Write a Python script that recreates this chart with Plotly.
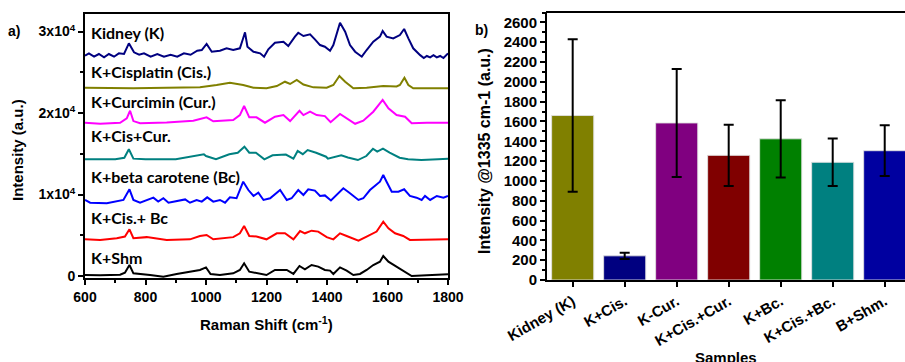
import plotly.graph_objects as go

# ---------------- Panel a: Raman spectra (offset, plotted intensity) ----------------
kidney_x = [600, 613, 630, 646, 663, 679, 696, 712, 729, 745, 762, 779, 795, 817, 839, 861, 883, 905, 927,
            949, 971, 986, 1002, 1019, 1046, 1068, 1090, 1112, 1121, 1129, 1137, 1157, 1179, 1192, 1206, 1228,
            1256, 1272, 1294, 1305, 1322, 1344, 1360, 1377, 1393, 1410, 1421, 1432, 1443, 1460, 1476, 1493,
            1515, 1531, 1553, 1575, 1584, 1597, 1619, 1641, 1655, 1669, 1685, 1708, 1720, 1730, 1741, 1752,
            1763, 1774, 1785, 1800]
kidney_y = [27030, 27320, 26910, 27240, 26830, 27240, 26910, 27320, 27240, 28550, 27450, 27150, 27320, 26910,
            27240, 26910, 27150, 26910, 27320, 27150, 27640, 27730, 28470, 27520, 27650, 27940, 27730, 27940,
            28960, 29900, 28140, 27520, 27320, 26910, 27820, 28630, 28750, 28220, 29370, 29850, 29450, 29650,
            29040, 28340, 28140, 27650, 28340, 29780, 31080, 29980, 28340, 27520, 26910, 27730, 28750, 29370,
            30060, 29370, 29160, 29570, 30310, 29160, 27940, 27100, 26750, 27000, 26830, 27100, 26830, 27000,
            26750, 27320]

cis_x = [600, 760, 870, 980, 1035, 1079, 1123, 1157, 1200, 1234, 1261, 1278, 1300, 1322, 1355, 1399, 1421,
         1441, 1460, 1487, 1531, 1586, 1630, 1641, 1656, 1669, 1685, 1800]
cis_y = [23110, 23030, 23110, 23150, 23440, 23720, 23440, 23110, 23030, 23310, 23840, 23560, 24050, 23500,
         23150, 23110, 23440, 24540, 23840, 23030, 23110, 23310, 23250, 23440, 24330, 23440, 23030, 23030]

cur_x = [600, 650, 716, 738, 749, 760, 782, 870, 958, 1002, 1024, 1090, 1112, 1126, 1143, 1167, 1195, 1228,
         1256, 1278, 1309, 1322, 1344, 1366, 1393, 1412, 1443, 1465, 1493, 1520, 1553, 1584, 1603, 1630,
         1658, 1680, 1730, 1800]
cur_y = [18810, 18680, 18810, 19350, 20280, 19010, 18740, 18850, 19060, 19470, 18990, 19150, 19750, 20860,
         19470, 19470, 18810, 19550, 19750, 19010, 20280, 19750, 20160, 19750, 19620, 18880, 19880, 19350,
         18680, 19060, 20160, 21600, 20580, 19750, 19550, 18740, 18810, 18810]

ciscur_x = [600, 700, 730, 745, 760, 800, 900, 993, 1000, 1033, 1077, 1105, 1127, 1143, 1165, 1193, 1220,
            1264, 1289, 1303, 1320, 1336, 1364, 1397, 1403, 1447, 1469, 1502, 1530, 1552, 1566, 1585, 1607,
            1640, 1668, 1712, 1767, 1800]
ciscur_y = [14320, 14320, 14500, 15550, 14400, 14320, 14320, 14930, 14720, 14320, 14930, 15130, 15870,
            15130, 15130, 14320, 14810, 14900, 14400, 15340, 14950, 15460, 15130, 14640, 14400, 14810, 14550,
            14230, 14720, 15620, 15260, 15620, 15130, 14520, 14320, 14230, 14320, 14400]

bc_x = [600, 617, 672, 727, 747, 760, 782, 826, 842, 859, 876, 931, 947, 969, 986, 1004, 1024, 1046, 1063,
        1079, 1101, 1123, 1140, 1157, 1173, 1190, 1212, 1245, 1267, 1283, 1305, 1322, 1338, 1360, 1377, 1393,
        1413, 1432, 1454, 1476, 1504, 1520, 1542, 1575, 1586, 1597, 1614, 1636, 1655, 1674, 1696, 1713, 1724,
        1741, 1763, 1785, 1800]
bc_y = [9330, 8990, 8920, 9330, 10640, 9330, 8990, 9610, 9130, 9540, 8990, 9400, 8990, 9330, 9130, 9650,
        9130, 9330, 8990, 9650, 9540, 11570, 10550, 9820, 10220, 9330, 9540, 10550, 9330, 9540, 10550, 9940,
        10640, 10480, 9820, 9890, 9270, 9940, 10760, 10150, 9330, 9540, 10550, 11570, 12390, 11570, 10350,
        10350, 10640, 9820, 9610, 9330, 9820, 9330, 9820, 9610, 9820]

cisbc_x = [600, 650, 705, 732, 747, 760, 804, 870, 947, 980, 1002, 1024, 1090, 1112, 1126, 1143, 1167,
           1200, 1234, 1261, 1289, 1311, 1327, 1349, 1371, 1399, 1421, 1443, 1465, 1504, 1531, 1564, 1586,
           1603, 1625, 1652, 1674, 1752, 1800]
cisbc_y = [4500, 4420, 4640, 4840, 5730, 4640, 4770, 4420, 4500, 4910, 5040, 4500, 4770, 5240, 6140, 4910,
           4840, 4500, 5240, 5240, 4500, 5520, 5240, 5560, 5450, 4770, 4500, 5240, 4910, 4330, 4840, 5450,
           6660, 5860, 5240, 4910, 4420, 4420, 4500]

shm_x = [600, 650, 716, 732, 747, 760, 815, 859, 903, 947, 980, 1000, 1015, 1046, 1090, 1112, 1126, 1143,
         1167, 1200, 1228, 1267, 1289, 1309, 1327, 1349, 1371, 1393, 1410, 1421, 1443, 1465, 1487, 1509,
         1531, 1553, 1575, 1586, 1603, 1630, 1658, 1680, 1730, 1800]
shm_y = [120, 80, 160, 410, 1350, 330, 120, -80, 250, 530, 740, 1060, 250, 120, 330, 740, 1560, 530, 330,
         120, 740, 740, 250, 1230, 820, 1350, 1150, 740, 660, 250, 1060, 660, 120, 250, 740, 1350, 1760, 2450,
         1760, 1150, 530, 0, 80, 200]

spec_names = ["Kidney (K)", "K+Cisplatin (Cis.)", "K+Curcimin (Cur.)", "K+Cis+Cur.",
              "K+beta carotene (Bc)", "K+Cis.+ Bc", "K+Shm"]
spec_x = [kidney_x, cis_x, cur_x, ciscur_x, bc_x, cisbc_x, shm_x]
spec_y = [kidney_y, cis_y, cur_y, ciscur_y, bc_y, cisbc_y, shm_y]
spec_colors = ["#000080", "#808000", "#FF00FF", "#008080", "#0000FF", "#FF0000", "#000000"]
label_y = [29940, 25150, 21470, 17300, 12270, 7120, 2330]

y_tick_vals = [0, 10000, 20000, 30000]
y_tick_text = ["0", "1x10<sup>4</sup>", "2x10<sup>4</sup>", "3x10<sup>4</sup>"]

# ---------------- Panel b: bar chart ----------------
samples = ["Kidney (K)", "K+Cis.", "K-Cur.", "K+Cis.+Cur.", "K+Bc.", "K+Cis.+Bc.", "B+Shm."]
intensity = [1660, 244, 1585, 1258, 1425, 1188, 1305]
err = [770, 32, 545, 310, 390, 240, 256]
bar_colors = ["#808000", "#000080", "#800080", "#800000", "#008000", "#008080", "#0000A0"]

W, H = 905, 362

fig = go.Figure()

for name, xs, ys, c in zip(spec_names, spec_x, spec_y, spec_colors):
    fig.add_trace(go.Scatter(x=xs, y=ys, mode="lines", line=dict(color=c, width=2),
                             name=name, xaxis="x", yaxis="y", showlegend=False))

fig.add_trace(go.Bar(x=list(range(len(samples))), y=intensity,
                     marker=dict(color=bar_colors, line=dict(color="rgba(225,225,225,0.9)", width=1)),
                     width=0.81,
                     error_y=dict(type="data", array=err, color="black", thickness=2, width=5),
                     xaxis="x2", yaxis="y2", showlegend=False))

FAM = "Liberation Sans, Arial"
tick_font_a = dict(family=FAM, size=14, color="black", weight="bold")
tick_font_b = dict(family=FAM, size=15, color="black", weight="bold")
label_font = dict(family="Lato", size=16, color="black", weight="bold")


def px_ann(x, y, text, size, angle=0):
    return dict(x=x / W, y=1 - y / H, xref="paper", yref="paper", text=text, showarrow=False,
                textangle=angle, xanchor="center", yanchor="middle",
                font=dict(family=FAM, size=size, color="black", weight="bold"))


annotations = []
for name, ly in zip(spec_names, label_y):
    annotations.append(dict(x=614, y=ly, xref="x", yref="y", text=name, showarrow=False,
                            xanchor="left", yanchor="middle", font=label_font))

annotations += [
    px_ann(14, 31, "a)", 14),
    px_ann(18, 150, "Intensity (a.u.)", 15, -90),
    px_ann(266, 323, "Raman Shift (cm<sup>-1</sup>)", 15),
    px_ann(481, 30, "b)", 14),
    px_ann(484, 151, "Intensity @1335 cm-1 (a.u.)", 16, -90),
    px_ann(726, 357, "Samples", 15),
]

common = dict(showgrid=False, zeroline=False, automargin=False, ticks="outside", ticklen=5,
              tickwidth=2, tickcolor="black", showline=True, linecolor="black", linewidth=2)

fig.update_layout(
    width=W, height=H,
    margin=dict(l=0, r=0, t=0, b=0, autoexpand=False),
    paper_bgcolor="white", plot_bgcolor="white",
    font=dict(family=FAM, color="black"),
    xaxis=dict(domain=[85 / W, 448 / W], range=[600, 1800], anchor="y",
               tickvals=[600, 800, 1000, 1200, 1400, 1600, 1800],
               minor=dict(tickvals=[700, 900, 1100, 1300, 1500, 1700], ticks="outside", ticklen=3,
                          tickwidth=1.5, tickcolor="black"),
               mirror=True, tickfont=tick_font_a, **common),
    yaxis=dict(domain=[1 - 278 / H, 1 - 14 / H], range=[-245, 32150], anchor="x",
               tickvals=y_tick_vals, ticktext=y_tick_text,
               minor=dict(tickvals=[5000, 15000, 25000], ticks="outside", ticklen=3,
                          tickwidth=1.5, tickcolor="black"),
               mirror=True, tickfont=tick_font_a, **common),
    xaxis2=dict(domain=[547 / W, 1.0], range=[-0.494, 6.39], anchor="y2",
                tickvals=list(range(len(samples))), ticktext=samples, tickangle=-30,
                tickfont=tick_font_b, **common),
    yaxis2=dict(domain=[1 - 280 / H, 1 - 12 / H], range=[0, 2705], anchor="x2",
                tickvals=list(range(0, 2601, 200)),
                minor=dict(tickvals=list(range(100, 2701, 200)), ticks="outside", ticklen=3,
                           tickwidth=1.5, tickcolor="black"),
                tickfont=tick_font_b, **common),
    annotations=annotations,
    shapes=[dict(type="line", xref="paper", yref="paper", x0=546 / W, x1=1.0,
                 y0=1 - 12 / H, y1=1 - 12 / H, line=dict(color="black", width=2))],
)

fig.write_html("out.html")
